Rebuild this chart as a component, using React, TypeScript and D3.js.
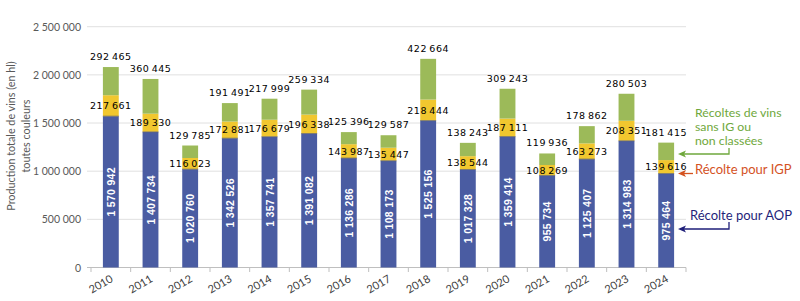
import React from "react";
import * as d3 from "d3";

const years = ["2010","2011","2012","2013","2014","2015","2016","2017","2018","2019","2020","2021","2022","2023","2024"];
const aop = [1570942,1407734,1020760,1342526,1357741,1391082,1136286,1108173,1525156,1017328,1359414,955734,1125407,1314983,975464];
const igp = [217661,189330,116023,172881,176679,196338,143987,135447,218444,138544,187111,108269,163273,208351,139616];
const sansIG = [292465,360445,129785,191491,217999,259334,125396,129587,422664,138243,309243,119936,178862,280503,181415];
const yTicks = [0,500000,1000000,1500000,2000000,2500000];

const W = 800, H = 301;
const fmt = (v: number) => d3.format(",")(v).replace(/,/g, " ");
const fmtThin = (v: number) => d3.format(",")(v).replace(/,/g, "\u2009");

const C_AOP = "#4a5ca2";
const C_IGP = "#f1c72f";
const C_SIG = "#9cba59";

export default function App() {
  const x = d3.scaleBand<string>().domain(years).range([91, 686]).paddingInner(0.6).paddingOuter(0.3);
  const y = d3.scaleLinear().domain([0, 2500000]).range([267.5, 26.7]);
  const bw = x.bandwidth();
  const left = 91, right = 686;
  const boundaries = d3.range(years.length + 1).map(i => left + i * (right - left) / years.length);

  return (
    <svg width={W} height={H} style={{ position: "absolute", left: 0, top: 0, background: "#fff" }}>
      {yTicks.map(t => (
        <g key={t}>
          <line x1={87} x2={right} y1={y(t)} y2={y(t)} stroke={t === 0 ? "#bfbfbf" : "#e0e0e0"} strokeWidth={1} />
          <text x={81} y={y(t) + 4} textAnchor="end" fontFamily="Lato" fontSize={10.5} fill="#595959">{fmt(t)}</text>
        </g>
      ))}
      {boundaries.map((b, i) => (
        <line key={i} x1={b} x2={b} y1={267.5} y2={272} stroke="#bfbfbf" />
      ))}
      <g transform={`translate(15,136) rotate(-90)`} fontFamily="Lato" fontSize={10.8} fill="#595959" textAnchor="middle">
        <text x={0} y={0}>Production totale de vins (en hl)</text>
        <text x={0} y={15}>toutes couleurs</text>
      </g>
      {years.map((yr, i) => {
        const x0 = x(yr)!;
        const cx = x0 + bw / 2;
        const b0 = 0, b1 = aop[i], b2 = aop[i] + igp[i], b3 = b2 + sansIG[i];
        return (
          <g key={yr}>
            <rect x={x0} width={bw} y={y(b1)} height={y(b0) - y(b1)} fill={C_AOP} />
            <rect x={x0} width={bw} y={y(b2)} height={y(b1) - y(b2)} fill={C_IGP} />
            <rect x={x0} width={bw} y={y(b3)} height={y(b2) - y(b3)} fill={C_SIG} />
            <line x1={x0} x2={x0 + bw} y1={y(b1)} y2={y(b1)} stroke="#6b6b6b" strokeWidth={0.8} />
            <text transform={`translate(${cx + 4},${(y(b0) + y(b1)) / 2}) rotate(-90)`} textAnchor="middle"
              fontFamily="Liberation Sans" fontWeight="bold" fontSize={10.5} fill="#fff" letterSpacing={0.3}>{fmt(aop[i])}</text>
            <text x={cx} y={(y(b1) + y(b2)) / 2 + 3.5} textAnchor="middle" fontFamily="DejaVu Sans" fontSize={9.5} letterSpacing={0.5} fill="#000">{fmtThin(igp[i])}</text>
            <text x={cx} y={y(b3) - 7} textAnchor="middle" fontFamily="DejaVu Sans" fontSize={9.5} letterSpacing={0.5} fill="#000">{fmtThin(sansIG[i])}</text>
            <text transform={`translate(${cx + 3},${281}) rotate(-30)`} textAnchor="end" fontFamily="Lato" fontSize={11} fill="#404040">{yr}</text>
          </g>
        );
      })}
      <g fontFamily="Lato" fontSize={12.3}>
        <text x={695} y={117} fill="#6fa83c">Récoltes de vins</text>
        <text x={695} y={131} fill="#6fa83c">sans IG ou</text>
        <text x={695} y={145} fill="#6fa83c">non classées</text>
        <polyline points="729,148 729,154 682,154" fill="none" stroke="#6fa83c" strokeWidth={1.3} />
        <path d="M678,154 L686,150.5 L684,154 L686,157.5 Z" fill="#6fa83c" />
        <text x={695} y={173.5} fill="#d4521f" fontSize={13}>Récolte pour IGP</text>
        <line x1={693} x2={682} y1={173.5} y2={173.5} stroke="#d4521f" strokeWidth={1.3} />
        <path d="M678,173.5 L686,170 L684,173.5 L686,177 Z" fill="#d4521f" />
        <text x={690} y={219.5} fill="#1f1f7a" fontSize={13}>Récolte pour AOP</text>
        <polyline points="729,222 729,229 682,229" fill="none" stroke="#1f1f7a" strokeWidth={1.3} />
        <path d="M678,229 L686,225.5 L684,229 L686,232.5 Z" fill="#1f1f7a" />
      </g>
    </svg>
  );
}
